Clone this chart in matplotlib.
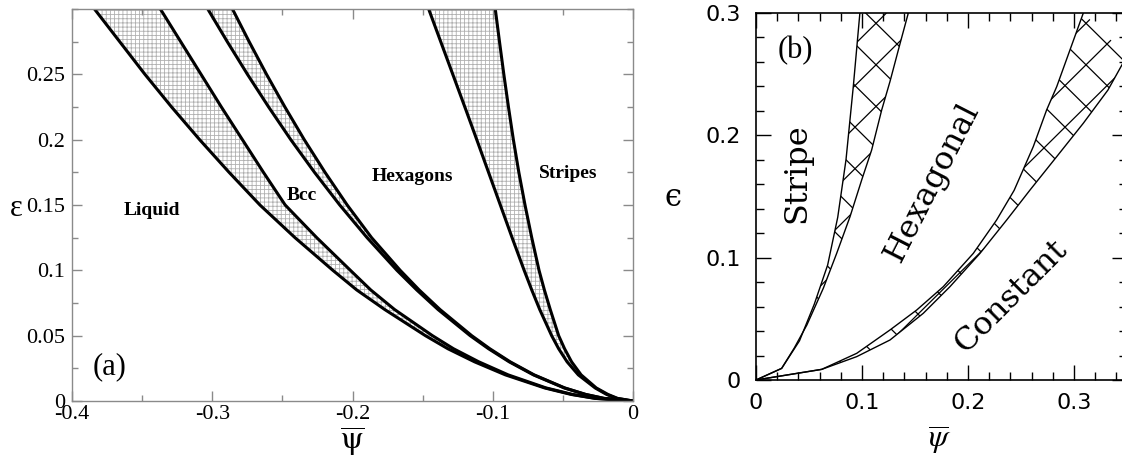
import numpy as np
import matplotlib
matplotlib.use("Agg")
import matplotlib.pyplot as plt
from matplotlib.ticker import FixedLocator, MultipleLocator
from matplotlib.collections import LineCollection
from matplotlib.patches import Polygon

# ---- panel (a): 3D phase diagram, boundaries read at fixed epsilon ----
EPS_A = [0.30, 0.275, 0.25, 0.225, 0.20, 0.175, 0.15, 0.125, 0.10, 0.085,
         0.07, 0.05, 0.04, 0.03, 0.02, 0.01, 0.005, 0.002, 0.0]
LIQ_LO = [-0.384, -0.366, -0.348, -0.329, -0.309, -0.288, -0.266, -0.241, -0.214, -0.197,
          -0.177, -0.148, -0.132, -0.113, -0.091, -0.063, -0.044, -0.027, 0.0]
LIQ_HI = [-0.337, -0.3225, -0.308, -0.2935, -0.2785, -0.2635, -0.248, -0.2255, -0.2015, -0.187,
          -0.170, -0.143, -0.128, -0.110, -0.089, -0.062, -0.043, -0.0265, 0.0]
BCC_LO = [-0.3032, -0.2893, -0.2749, -0.2598, -0.2440, -0.2271, -0.2091, -0.1896, -0.1683, -0.1542,
          -0.1390, -0.1161, -0.1030, -0.0883, -0.0710, -0.0490, -0.0338, -0.0207, 0.0]
BCC_HI = [-0.2856, -0.2737, -0.2613, -0.2482, -0.2344, -0.2196, -0.2038, -0.1864, -0.1660, -0.1525,
          -0.1376, -0.1150, -0.1021, -0.0876, -0.0705, -0.0487, -0.0336, -0.0206, 0.0]
HEX_LO = [-0.1457, -0.1371, -0.1285, -0.1199, -0.1114, -0.1030, -0.0946, -0.0862, -0.0776, -0.0722,
          -0.0665, -0.0580, -0.0530, -0.0470, -0.0390, -0.0270, -0.0188, -0.0115, 0.0]
HEX_HI = [-0.0982, -0.0952, -0.0921, -0.0888, -0.0853, -0.0814, -0.0770, -0.0722, -0.0670, -0.0632,
          -0.0590, -0.0530, -0.0488, -0.0438, -0.0370, -0.0262, -0.0178, -0.0110, 0.0]

XT_A = [-0.4, -0.3, -0.2, -0.1, 0.0]
XT_A_LAB = ["-0.4", "-0.3", "-0.2", "-0.1", "0"]
YT_A = [0.0, 0.05, 0.1, 0.15, 0.2, 0.25]
YT_A_LAB = ["0", "0.05", "0.1", "0.15", "0.2", "0.25"]
LABELS_A = ["Liquid", "Bcc", "Hexagons", "Stripes"]
LABEL_POS_A = [(-0.343, 0.146), (-0.236, 0.157), (-0.157, 0.172), (-0.046, 0.174)]

# ---- panel (b): 2D phase diagram ----
STR_LO_X = [0.0, 0.0242, 0.041, 0.055, 0.0676, 0.0771, 0.0849, 0.0918, 0.098]
STR_LO_Y = [0.0, 0.0095, 0.032, 0.062, 0.094, 0.133, 0.180, 0.240, 0.300]
STR_HI_X = [0.0, 0.0242, 0.036, 0.048, 0.0635, 0.0761, 0.0887, 0.0997, 0.1091, 0.1186, 0.1264, 0.1358, 0.1437]
STR_HI_Y = [0.0, 0.0095, 0.026, 0.045, 0.075, 0.1035, 0.1335, 0.1635, 0.188, 0.2208, 0.244, 0.2747, 0.300]
CON_LO_X = [0.0, 0.062, 0.095, 0.1264, 0.1516, 0.1767, 0.205, 0.227, 0.2435, 0.2616, 0.2742, 0.2837, 0.2962, 0.3088]
CON_LO_Y = [0.0, 0.0087, 0.0218, 0.0409, 0.0572, 0.0763, 0.1035, 0.1308, 0.155, 0.1908, 0.2208, 0.2398, 0.2698, 0.300]
CON_HI_X = [0.0, 0.062, 0.095, 0.1264, 0.1578, 0.183, 0.2113, 0.2365, 0.2585, 0.2837, 0.3088, 0.332, 0.350]
CON_HI_Y = [0.0, 0.0087, 0.0191, 0.0327, 0.0545, 0.0763, 0.1035, 0.1308, 0.1553, 0.1826, 0.2099, 0.237, 0.265]

XT_B = [0.0, 0.1, 0.2, 0.3]
XT_B_LAB = ["0", "0.1", "0.2", "0.3"]
YT_B = [0.0, 0.1, 0.2, 0.3]
YT_B_LAB = ["0", "0.1", "0.2", "0.3"]
LABELS_B = ["Stripe", "Hexagonal", "Constant"]
LABEL_POS_B = [(0.0387, 0.169), (0.166, 0.161), (0.2406, 0.068)]
LABEL_ROT_B = [90, 63, 45]

plt.rcParams["mathtext.fontset"] = "stix"
plt.rcParams["hatch.linewidth"] = 0.6

W, H = 1122, 465
fig = plt.figure(figsize=(W / 100, H / 100), dpi=100)
ax1 = fig.add_axes([72 / W, 1 - 401 / H, 561 / W, 392 / H])
ax2 = fig.add_axes([756 / W, 1 - 380 / H, 371 / W, 367 / H])

# --- (a) ---
gray = "#8a8a8a"
for lo, hi in [(LIQ_LO, LIQ_HI), (BCC_LO, BCC_HI), (HEX_LO, HEX_HI)]:
    ax1.fill(np.r_[lo, hi[::-1]], np.r_[EPS_A, EPS_A[::-1]], facecolor="none",
             edgecolor="#b0b0b0", hatch="++++", linewidth=0)
    ax1.plot(lo, EPS_A, color="black", lw=2.2, solid_capstyle="butt")
    ax1.plot(hi, EPS_A, color="black", lw=2.2, solid_capstyle="butt")

ax1.set_xlim(-0.4, 0)
ax1.set_ylim(0, 0.3)
ax1.xaxis.set_major_locator(FixedLocator(XT_A))
ax1.set_xticklabels(XT_A_LAB)
ax1.yaxis.set_major_locator(FixedLocator(YT_A))
ax1.set_yticklabels(YT_A_LAB)
ax1.xaxis.set_minor_locator(MultipleLocator(0.05))
ax1.yaxis.set_minor_locator(MultipleLocator(0.025))
ax1.tick_params(which="both", direction="in", top=True, right=True, color=gray, width=1.0)
ax1.tick_params(which="major", length=7.5)
ax1.tick_params(which="minor", length=4.5)
ax1.tick_params(axis="x", pad=3)
ax1.tick_params(axis="y", pad=5)
for lab in ax1.get_xticklabels() + ax1.get_yticklabels():
    lab.set_family("Liberation Serif")
    lab.set_fontsize(16)
for sp in ax1.spines.values():
    sp.set_color(gray)
    sp.set_linewidth(1.0)

for txt, (x, y) in zip(LABELS_A, LABEL_POS_A):
    ax1.text(x, y, txt, family="Liberation Serif", weight="bold", fontsize=14,
             ha="center", va="center")
ax1.text(0.037, 0.088, "(a)", transform=ax1.transAxes, family="Liberation Serif",
         fontsize=22, ha="left", va="center")
fig.text(16 / W, 1 - 208 / H, "ε", family="Liberation Serif", fontsize=22,
         ha="center", va="center")
fig.text(352 / W, 1 - 442 / H, r"$\overline{\mathrm{\psi}}$", fontsize=23,
         ha="center", va="center")

# --- (b) ---
P = 42 / 371  # hatch period in axes fraction
segs = []
for k in np.arange(-30, 31):
    c = 0.6485 + k * P
    segs.append([(-1, -1 + c), (2, 2 + c)])
    c = 1.2955 + k * P
    segs.append([(-1, 1 + c), (2, -2 + c)])

for lx, ly, hx, hy in [(STR_LO_X, STR_LO_Y, STR_HI_X, STR_HI_Y),
                       (CON_LO_X, CON_LO_Y, CON_HI_X, CON_HI_Y)]:
    poly = Polygon(np.column_stack([np.r_[lx, hx[::-1]], np.r_[ly, hy[::-1]]]),
                   closed=True, facecolor="none", edgecolor="none")
    ax2.add_patch(poly)
    lc = LineCollection(segs, colors="black", linewidths=0.9, transform=ax2.transAxes)
    ax2.add_collection(lc, autolim=False)
    lc.set_clip_path(poly)
    ax2.plot(lx, ly, color="black", lw=1.0)
    ax2.plot(hx, hy, color="black", lw=1.0)

ax2.set_xlim(0, 0.35)
ax2.set_ylim(0, 0.3)
ax2.xaxis.set_major_locator(FixedLocator(XT_B))
ax2.set_xticklabels(XT_B_LAB)
ax2.yaxis.set_major_locator(FixedLocator(YT_B))
ax2.set_yticklabels(YT_B_LAB)
ax2.xaxis.set_minor_locator(MultipleLocator(0.02))
ax2.yaxis.set_minor_locator(MultipleLocator(0.02))
ax2.tick_params(which="both", direction="in", top=True, right=True, color="black", width=1.0)
ax2.tick_params(which="major", length=11)
ax2.tick_params(which="minor", length=5.5)
ax2.tick_params(axis="x", pad=9)
ax2.tick_params(axis="y", pad=11)
for lab in ax2.get_xticklabels() + ax2.get_yticklabels():
    lab.set_family("DejaVu Sans")
    lab.set_fontsize(16)
for sp in ax2.spines.values():
    sp.set_linewidth(1.2)

for txt, (x, y), rot in zip(LABELS_B, LABEL_POS_B, LABEL_ROT_B):
    ax2.text(x, y, txt, family="DejaVu Serif", fontsize=23, rotation=rot,
             rotation_mode="anchor", ha="center", va="center")
ax2.text(22 / 371, 1 - 38 / 367, "(b)", transform=ax2.transAxes, family="Liberation Serif",
         fontsize=22, ha="left", va="center")
fig.text(673 / W, 1 - 198 / H, "ϵ", family="DejaVu Serif", fontsize=22, ha="center", va="center")
fig.text(940 / W, 1 - 440 / H, r"$\overline{\psi}$", fontsize=23, ha="center", va="center")

fig.savefig("out.png", dpi=100)
